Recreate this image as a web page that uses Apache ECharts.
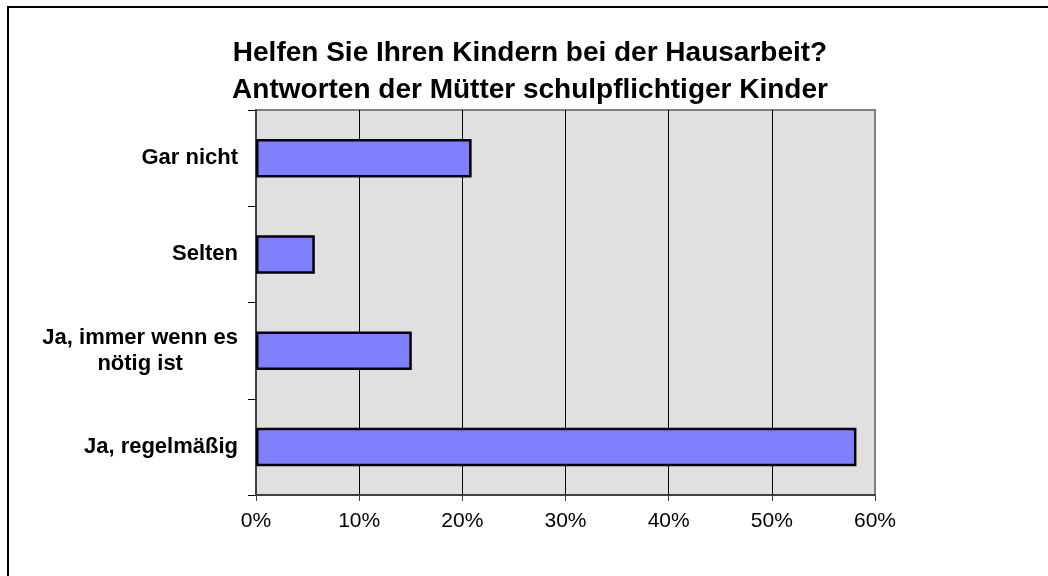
<!DOCTYPE html>
<html>
<head>
<meta charset="utf-8">
<script src="https://cdn.jsdelivr.net/npm/echarts@6/dist/echarts.min.js"></script>
<style>
  html, body { margin: 0; padding: 0; background: #fff; }
  #main { width: 1048px; height: 576px; }
</style>
</head>
<body>
<div id="main"></div>
<script>
// Kategorien von oben nach unten
const categories = ['Gar nicht', 'Selten', 'Ja, immer wenn es\nnötig ist', 'Ja, regelmäßig'];
// Anteil der Antworten in Prozent
const values = [20.9, 5.7, 15.1, 58.2];

const font = 'Liberation Sans, Arial, sans-serif';

const option = {
  animation: false,
  backgroundColor: '#fff',
  title: {
    text: 'Helfen Sie Ihren Kindern bei der Hausarbeit?\nAntworten der Mütter schulpflichtiger Kinder',
    left: 525,
    top: 30,
    textAlign: 'center',
    textStyle: {
      fontFamily: font,
      fontSize: 28,
      fontWeight: 'bold',
      color: '#000',
      lineHeight: 37
    }
  },
  graphic: [
    {
      type: 'rect',
      shape: { x: 8, y: 7, width: 1100, height: 620 },
      style: { fill: 'none', stroke: '#000', lineWidth: 2 },
      silent: true
    }
  ],
  grid: {
    left: 256,
    right: 173,
    top: 110,
    bottom: 81,
    show: true,
    backgroundColor: '#e0e0e0',
    borderColor: '#808080',
    borderWidth: 2
  },
  xAxis: {
    type: 'value',
    min: 0,
    max: 60,
    interval: 10,
    axisLine: { show: true, lineStyle: { color: '#404040', width: 2 } },
    axisTick: { show: true, length: 6, lineStyle: { color: '#404040' } },
    axisLabel: {
      margin: 16,
      formatter: '{value}%',
      fontFamily: font,
      fontSize: 21,
      color: '#000'
    },
    splitLine: {
      show: true,
      showMinLine: false,
      showMaxLine: false,
      lineStyle: { color: '#000', width: 1 }
    }
  },
  yAxis: {
    type: 'category',
    inverse: true,
    data: categories,
    axisLine: { show: true, lineStyle: { color: '#404040', width: 2 } },
    axisTick: { show: true, length: 8, lineStyle: { color: '#000' } },
    axisLabel: {
      margin: 18,
      fontFamily: font,
      fontSize: 22,
      fontWeight: 'bold',
      color: '#000',
      formatter: function (v) {
        return v.split('\n').map(function (s) { return '{c|' + s + '}'; }).join('\n');
      },
      rich: {
        c: {
          fontFamily: font,
          fontSize: 22,
          fontWeight: 'bold',
          color: '#000',
          lineHeight: 26,
          align: 'center'
        }
      }
    }
  },
  series: [
    {
      type: 'bar',
      data: values,
      barWidth: '40%',
      itemStyle: {
        color: '#8080ff',
        borderColor: '#000',
        borderWidth: 2.5
      }
    }
  ]
};

const myChart = echarts.init(document.getElementById('main'));
myChart.setOption(option);
</script>
</body>
</html>
